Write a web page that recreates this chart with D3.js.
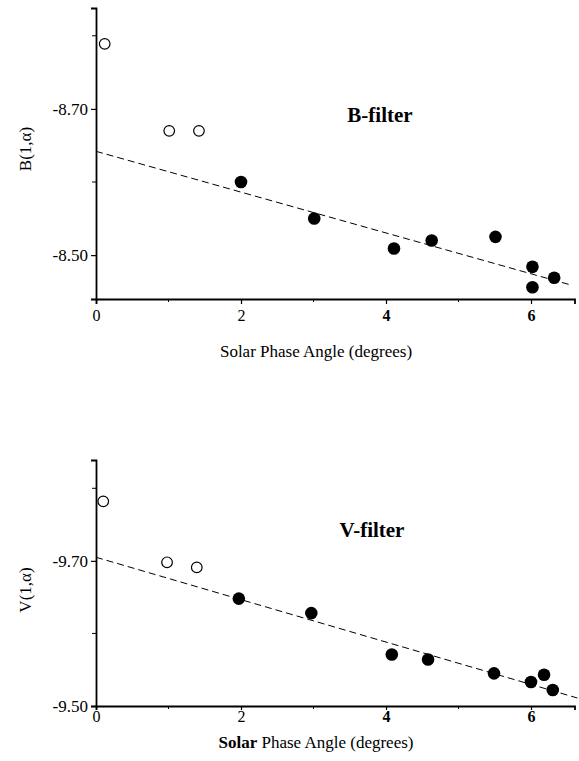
<!DOCTYPE html>
<html>
<head>
<meta charset="utf-8">
<script src="https://cdn.jsdelivr.net/npm/d3@7"></script>
<style>
    body { margin: 0; background: #fff; }
    svg { display: block; }
    svg text { font-family: "Liberation Serif", "Times New Roman", serif; }
</style>
</head>
<body>
<svg class="chart" width="579" height="761" font-family="Liberation Serif"></svg>
<script>
// Data
// B-filter
var bPhase = [0.12, 1.01, 1.42, 2.00, 3.01, 4.11, 4.63, 5.51, 6.02, 6.02, 6.32];
var bMag   = [-8.789, -8.670, -8.670, -8.600, -8.550, -8.509, -8.520, -8.525, -8.484, -8.456, -8.469];
var bOpen  = [true, true, true, false, false, false, false, false, false, false, false];
var bFitPhase = [0, 6.52];
var bFitMag   = [-8.642, -8.460];

// V-filter
var vPhase = [0.10, 0.98, 1.39, 1.97, 2.97, 4.08, 4.58, 5.49, 6.00, 6.18, 6.30];
var vMag   = [-9.782, -9.698, -9.691, -9.648, -9.628, -9.571, -9.564, -9.545, -9.533, -9.543, -9.522];
var vOpen  = [true, true, true, false, false, false, false, false, false, false, false];
var vFitPhase = [0, 6.64];
var vFitMag   = [-9.705, -9.511];

// Axis ticks
var xTicks = [0, 2, 4, 6];
var xMinorTicks = [1, 3, 5];
var bTicks = [-8.70, -8.50];
var bMinorTicks = [-8.80, -8.60];
var vTicks = [-9.70, -9.50];
var vMinorTicks = [-9.80, -9.60];

var svg = d3.select(".chart");

drawPanel({
    top: 8, bottom: 299,
    yDomain: [-8.838, -8.44],
    phase: bPhase, mag: bMag, open: bOpen,
    fitPhase: bFitPhase, fitMag: bFitMag,
    ticks: bTicks, minorTicks: bMinorTicks,
    title: "B-filter", titleX: 380, titleY: 122,
    yLabel: "B(1,\u03b1)", yLabelY: 149,
    xTickSize: 5, xTickPad: 6,
    xLabelY: 357, boldSolar: false
});

drawPanel({
    top: 460, bottom: 706,
    yDomain: [-9.839, -9.50],
    phase: vPhase, mag: vMag, open: vOpen,
    fitPhase: vFitPhase, fitMag: vFitMag,
    ticks: vTicks, minorTicks: vMinorTicks,
    title: "V-filter", titleX: 372, titleY: 537,
    yLabel: "V(1,\u03b1)", yLabelY: 590,
    xTickSize: 4, xTickPad: 1,
    xLabelY: 748, boldSolar: true
});

function drawPanel(cfg) {
    var left = 96, right = 574.5;
    var x = d3.scaleLinear().domain([0, 6.6]).range([left, right]);
    var y = d3.scaleLinear().domain(cfg.yDomain).range([cfg.top, cfg.bottom]);

    // plain hyphen like the print, not the unicode minus
    var yFormat = function(d) { return d3.format(".2f")(d).replace("\u2212", "-"); };

    var g = svg.append("g");

    // X axis (major ticks with labels, then minor ticks)
    var xAxis = g.append("g")
        .attr("transform", "translate(0," + cfg.bottom + ")")
        .call(d3.axisBottom(x).tickValues(xTicks).tickSize(cfg.xTickSize).tickPadding(cfg.xTickPad)
            .tickFormat(d3.format("d")));
    xAxis.append("g").selectAll("line")
        .data(xMinorTicks)
        .enter().append("line")
        .attr("x1", function(d) { return x(d); })
        .attr("x2", function(d) { return x(d); })
        .attr("y1", 0).attr("y2", 3)
        .attr("stroke", "#000");

    // Y axis
    var yAxis = g.append("g")
        .attr("transform", "translate(" + left + ",0)")
        .call(d3.axisLeft(y).tickValues(cfg.ticks).tickSize(5).tickPadding(3)
            .tickFormat(yFormat));
    yAxis.append("g").selectAll("line")
        .data(cfg.minorTicks)
        .enter().append("line")
        .attr("y1", function(d) { return y(d); })
        .attr("y2", function(d) { return y(d); })
        .attr("x1", 0).attr("x2", -4)
        .attr("stroke", "#000");

    [xAxis, yAxis].forEach(function(a) {
        a.attr("font-family", "Liberation Serif").attr("font-size", 16);
        a.select(".domain").attr("stroke", "#000").attr("stroke-width", 1.8);
        a.selectAll(".tick line").attr("stroke", "#000").attr("stroke-width", 1.2);
        a.selectAll("text").attr("fill", "#000");
    });
    yAxis.attr("font-size", 17);
    // the 4 and 6 labels print heavier in the original
    xAxis.selectAll(".tick text")
        .attr("font-weight", function(d) { return d >= 4 ? "bold" : "normal"; });

    // Dashed fit line
    var fit = cfg.fitPhase.map(function(p, i) { return [p, cfg.fitMag[i]]; });
    g.append("path")
        .datum(fit)
        .attr("d", d3.line()
            .x(function(d) { return x(d[0]); })
            .y(function(d) { return y(d[1]); }))
        .attr("fill", "none")
        .attr("stroke", "#000")
        .attr("stroke-width", 1)
        .attr("stroke-dasharray", "7,4");

    // Points: open circles near opposition, filled elsewhere
    var pts = cfg.phase.map(function(p, i) {
        return {phase: p, mag: cfg.mag[i], open: cfg.open[i]};
    });
    g.selectAll(".pt")
        .data(pts)
        .enter().append("circle")
        .attr("class", "pt")
        .attr("cx", function(d) { return x(d.phase); })
        .attr("cy", function(d) { return y(d.mag); })
        .attr("r", function(d) { return d.open ? 5.3 : 6.3; })
        .attr("fill", function(d) { return d.open ? "#fff" : "#000"; })
        .attr("stroke", "#000")
        .attr("stroke-width", function(d) { return d.open ? 1.2 : 0; });

    // Panel title
    g.append("text")
        .attr("x", cfg.titleX)
        .attr("y", cfg.titleY)
        .attr("text-anchor", "middle")
        .attr("font-weight", "bold")
        .attr("font-size", 21)
        .text(cfg.title);

    // Y axis label
    g.append("text")
        .attr("transform", "translate(31," + cfg.yLabelY + ") rotate(-90)")
        .attr("text-anchor", "middle")
        .attr("font-size", 17)
        .text(cfg.yLabel);

    // X axis label
    var xl = g.append("text")
        .attr("x", 316)
        .attr("y", cfg.xLabelY)
        .attr("text-anchor", "middle")
        .attr("font-size", 17);
    xl.append("tspan")
        .attr("font-weight", cfg.boldSolar ? "bold" : "normal")
        .text("Solar");
    xl.append("tspan").text(" Phase Angle (degrees)");
}
</script>
</body>
</html>
